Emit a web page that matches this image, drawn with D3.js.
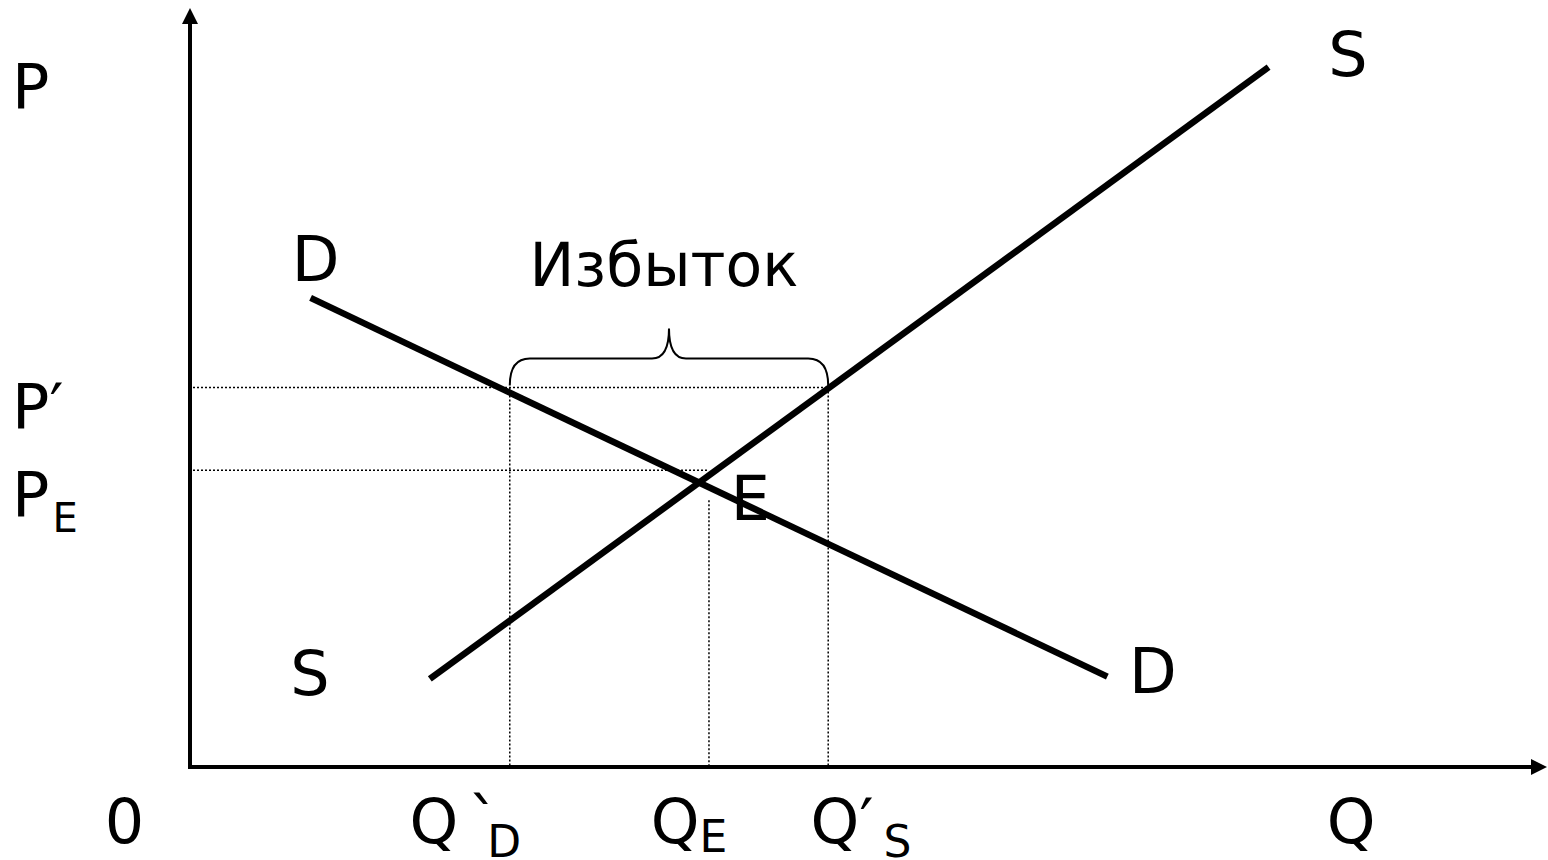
<!DOCTYPE html>
<html>
<head>
<meta charset="utf-8">
<script src="https://cdn.jsdelivr.net/npm/d3@7"></script>
<style>
  html, body { margin: 0; padding: 0; background: #fff; }
  svg { display: block; }
  text { font-family: "DejaVu Sans", Verdana, sans-serif; fill: #000; }
</style>
</head>
<body>
<svg id="chart" width="1548" height="860"></svg>
<script>
// ---- data (units: Q 0..100, P 0..100) ----
const supplyLine = [[17.7, 11.6], [79.6, 92.2]];
const demandLine = [[8.9, 61.8], [67.7, 11.9]];
const priceLevels = { Pprime: 50.0, PE: 39.1 };
const qtyLevels = { QDprime: 23.6, QE: 38.3, QSprime: 47.1 };
const curveLabels = [
  { text: "S", q: 84.0, p: 91.0 },
  { text: "D", q: 7.5, p: 64.0 },
  { text: "S", q: 7.4, p: 9.5 },
  { text: "D", q: 69.3, p: 9.7 },
  { text: "E", q: 39.9, p: 32.6 }
];
const surplusLabel = "Избыток";
const yTickLabels = [
  { main: "P", sub: "", prime: "", p: 86.8 },
  { main: "P", sub: "", prime: "′", p: 44.6 },
  { main: "P", sub: "E", prime: "", p: 33.1 }
];
const xTickLabels = [
  { main: "0", prime: "", sub: "", q: -6.3 },
  { main: "Q", prime: "`", sub: "D", q: 16.2 },
  { main: "Q", prime: "", sub: "E", q: 34.0 },
  { main: "Q", prime: "′", sub: "S", q: 45.8 },
  { main: "Q", prime: "", sub: "", q: 83.9 }
];

// ---- scales ----
const x = d3.scaleLinear().domain([0, 100]).range([190, 1545]);
const y = d3.scaleLinear().domain([0, 100]).range([767, 8]);

const svg = d3.select("#chart");

// dotted guide lines
const guides = svg.append("g")
  .attr("stroke", "#000").attr("stroke-width", 1.5)
  .attr("stroke-dasharray", "2,2").attr("fill", "none");
guides.append("line")
  .attr("x1", x(0) + 3).attr("x2", x(qtyLevels.QSprime))
  .attr("y1", y(priceLevels.Pprime)).attr("y2", y(priceLevels.Pprime));
guides.append("line")
  .attr("x1", x(0) + 3).attr("x2", x(qtyLevels.QE))
  .attr("y1", y(priceLevels.PE)).attr("y2", y(priceLevels.PE));
guides.append("line")
  .attr("x1", x(qtyLevels.QDprime)).attr("x2", x(qtyLevels.QDprime))
  .attr("y1", y(priceLevels.Pprime)).attr("y2", y(0));
guides.append("line")
  .attr("x1", x(qtyLevels.QSprime)).attr("x2", x(qtyLevels.QSprime))
  .attr("y1", y(priceLevels.Pprime)).attr("y2", y(0));
guides.append("line")
  .attr("x1", x(qtyLevels.QE)).attr("x2", x(qtyLevels.QE))
  .attr("y1", y(priceLevels.PE) + 30).attr("y2", y(0));

// axes with arrowheads
const axes = svg.append("g");
axes.append("line")
  .attr("x1", x(0)).attr("y1", y(0) + 2).attr("x2", x(0)).attr("y2", y(100) + 14)
  .attr("stroke", "#000").attr("stroke-width", 4);
axes.append("path")
  .attr("d", `M${x(0)},${y(100)} L${x(0) - 8},${y(100) + 16} L${x(0) + 8},${y(100) + 16} Z`)
  .attr("fill", "#000");
axes.append("line")
  .attr("x1", x(0) - 2).attr("y1", y(0)).attr("x2", x(100) - 14).attr("y2", y(0))
  .attr("stroke", "#000").attr("stroke-width", 4);
axes.append("path")
  .attr("d", `M${x(100) + 2},${y(0)} L${x(100) - 14},${y(0) - 8} L${x(100) - 14},${y(0) + 8} Z`)
  .attr("fill", "#000");

// supply & demand lines
const line = d3.line().x(d => x(d[0])).y(d => y(d[1]));
svg.append("path").attr("d", line(supplyLine))
  .attr("stroke", "#000").attr("stroke-width", 6.5).attr("fill", "none");
svg.append("path").attr("d", line(demandLine))
  .attr("stroke", "#000").attr("stroke-width", 6.5).attr("fill", "none");

// brace over the surplus
const bx0 = x(qtyLevels.QDprime), bx1 = x(qtyLevels.QSprime);
const by0 = y(priceLevels.Pprime) - 2, byMid = by0 - 27, byTip = by0 - 57;
const bxm = (bx0 + bx1) / 2;
svg.append("path")
  .attr("d", `M${bx0},${by0} Q${bx0},${byMid} ${bx0 + 20},${byMid} L${bxm - 17},${byMid} Q${bxm},${byMid} ${bxm},${byTip} Q${bxm},${byMid} ${bxm + 17},${byMid} L${bx1 - 20},${byMid} Q${bx1},${byMid} ${bx1},${by0}`)
  .attr("stroke", "#000").attr("stroke-width", 2).attr("fill", "none");

const FS = 62;
svg.append("text").attr("x", bxm - 5).attr("y", y(priceLevels.Pprime) + 2 - 104)
  .attr("text-anchor", "middle").attr("font-size", 60).text(surplusLabel);

// curve labels
svg.selectAll("text.curve").data(curveLabels).join("text")
  .attr("class", "curve")
  .attr("x", d => x(d.q)).attr("y", d => y(d.p))
  .attr("font-size", FS).text(d => d.text);

// y labels
yTickLabels.forEach(d => {
  const t = svg.append("text").attr("x", 12).attr("y", y(d.p)).attr("font-size", FS);
  t.append("tspan").text(d.main);
  if (d.prime) t.append("tspan").text(d.prime);
  if (d.sub) t.append("tspan").attr("font-size", 40).attr("dx", 3).attr("dy", 16).text(d.sub);
});

// x labels
xTickLabels.forEach(d => {
  const t = svg.append("text").attr("x", x(d.q)).attr("y", 843).attr("font-size", FS);
  t.append("tspan").text(d.main);
  if (d.prime) t.append("tspan").attr("dx", d.prime === "`" ? 10 : 0).text(d.prime);
  if (d.sub) t.append("tspan").attr("font-size", 44)
    .attr("dx", d.prime === "′" ? 10 : (d.prime ? -12 : 0))
    .attr("dy", d.prime ? 14 : 9).text(d.sub);
});
</script>
</body>
</html>
